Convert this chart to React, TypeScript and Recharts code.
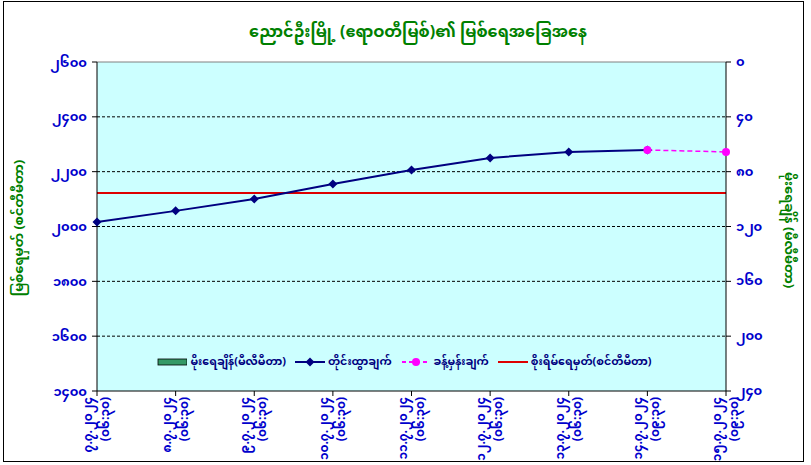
import React from "react";
import {
  ComposedChart,
  Line,
  Bar,
  XAxis,
  YAxis,
  CartesianGrid,
  Legend,
  ReferenceLine,
} from "recharts";

const dates = [
  "၇.၇.၂၀၂၄",
  "၈.၇.၂၀၂၄",
  "၉.၇.၂၀၂၄",
  "၁၀.၇.၂၀၂၄",
  "၁၁.၇.၂၀၂၄",
  "၁၂.၇.၂၀၂၄",
  "၁၃.၇.၂၀၂၄",
  "၁၄.၇.၂၀၂၄",
  "၁၅.၇.၂၀၂၄",
];
const times = [
  "(၀၆:၃၀)",
  "(၀၆:၃၀)",
  "(၀၆:၃၀)",
  "(၀၆:၃၀)",
  "(၀၆:၃၀)",
  "(၀၆:၃၀)",
  "(၀၆:၃၀)",
  "(၀၉:၃၀)",
  "(၀၉:၃၀)",
];
const waterLevel = [2016, 2057, 2100, 2155, 2206, 2250, 2272, 2279, null];
const forecast = [null, null, null, null, null, null, null, 2279, 2272];
const dangerLevel = [2122, 2122, 2122, 2122, 2122, 2122, 2122, 2122, 2122];
const rainfall = [0, 0, 0, 0, 0, 0, 0, 0, 0];
const levelTicks = [1400, 1600, 1800, 2000, 2200, 2400, 2600];
const rainTicks = [0, 40, 80, 120, 160, 200, 240];

const data = dates.map((d, i) => ({
  date: d,
  time: times[i],
  rain: rainfall[i],
  level: waterLevel[i],
  forecast: forecast[i],
  danger: dangerLevel[i],
}));

const FONT = "'Noto Sans Myanmar', 'Padauk', 'Myanmar Text', 'Noto Sans', sans-serif";
const BLUE = "#0000cc";
const GREEN = "#008000";

const myDigits = "၀၁၂၃၄၅၆၇၈၉";
const toMy = (n: number) => String(n).replace(/\d/g, (c) => myDigits[Number(c)]);

const Diamond = (props: any) => {
  const { cx, cy } = props;
  if (cx == null || cy == null || props.value == null) return null;
  return (
    <polygon
      points={`${cx},${cy - 4.5} ${cx + 4.5},${cy} ${cx},${cy + 4.5} ${cx - 4.5},${cy}`}
      fill="#000080"
    />
  );
};

const PinkDot = (props: any) => {
  const { cx, cy } = props;
  if (cx == null || cy == null || props.value == null) return null;
  return <circle cx={cx} cy={cy} r={4} fill="#ff00ff" />;
};

const XTick = (props: any) => {
  const { x, payload } = props;
  const i = payload.index;
  return (
    <g transform={`translate(${x},391)`}>
      <text
        transform="rotate(-90)"
        x={-6}
        y={-8}
        textAnchor="end"
        dominantBaseline="central"
        fill={BLUE}
        fontSize={12}
        fontWeight="bold"
        fontFamily={FONT}
      >
        {dates[i]}
      </text>
      <text
        transform="rotate(-90)"
        x={-6}
        y={9}
        textAnchor="end"
        dominantBaseline="central"
        fill={BLUE}
        fontSize={12}
        fontWeight="bold"
        fontFamily={FONT}
      >
        {times[i]}
      </text>
    </g>
  );
};

const RightTick = (props: any) => {
  const { x, y, payload } = props;
  return (
    <text x={x} y={y} dy={4} textAnchor="start" fill={BLUE} fontSize={13} fontWeight="bold" fontFamily={FONT}>
      {toMy(payload.value)}
    </text>
  );
};

const legendItems = [
  { label: "မိုးရေချိန်(မီလီမီတာ)", kind: "rect" },
  { label: "တိုင်းထွာချက်", kind: "diamond" },
  { label: "ခန့်မှန်းချက်", kind: "pink" },
  { label: "စိုးရိမ်ရေမှတ်(စင်တီမီတာ)", kind: "red" },
];

const LegendIcon = ({ kind }: { kind: string }) => (
  <svg width={30} height={12} style={{ marginRight: 3 }}>
    {kind === "rect" && <rect x={1} y={3} width={29} height={6} fill="#339966" stroke="#000" strokeWidth={0.8} />}
    {kind === "diamond" && (
      <>
        <line x1={0} y1={6} x2={30} y2={6} stroke="#000080" strokeWidth={2} />
        <polygon points="15,1.5 19.5,6 15,10.5 10.5,6" fill="#000080" />
      </>
    )}
    {kind === "pink" && (
      <>
        <line x1={1} y1={6} x2={29} y2={6} stroke="#ff00ff" strokeWidth={2} strokeDasharray="4 3" />
        <circle cx={15} cy={6} r={4} fill="#ff00ff" />
      </>
    )}
    {kind === "red" && <line x1={0} y1={6} x2={30} y2={6} stroke="#dd0000" strokeWidth={2} />}
  </svg>
);

const renderLegend = () => (
  <div style={{ display: "flex", alignItems: "center", justifyContent: "center", gap: 9 }}>
    {legendItems.map((it) => (
      <div key={it.label} style={{ display: "flex", alignItems: "center" }}>
        <LegendIcon kind={it.kind} />
        <span style={{ color: "#000080", fontSize: 11, fontWeight: "bold", fontFamily: FONT }}>{it.label}</span>
      </div>
    ))}
  </div>
);

export default function App() {
  return (
    <div style={{ position: "relative", width: 811, height: 465, background: "#fff", fontFamily: FONT }}>
      <style>{`body{margin:0}`}</style>
      <div
        style={{
          position: "absolute",
          left: 3,
          top: 1,
          width: 799,
          height: 459,
          border: "1px solid #000",
        }}
      />
      <div
        style={{
          position: "absolute",
          top: 16,
          left: 0,
          width: 836,
          textAlign: "center",
          color: GREEN,
          fontWeight: "bold",
          fontSize: 16,
        }}
      >
        ညောင်ဦးမြို့ (ဧရာဝတီမြစ်)၏ မြစ်ရေအခြေအနေ
      </div>
      <div
        style={{
          position: "absolute",
          left: 20,
          top: 228,
          transform: "translate(-50%,-50%) rotate(-90deg)",
          whiteSpace: "nowrap",
          color: GREEN,
          fontWeight: "bold",
          fontSize: 13,
        }}
      >
        မြစ်ရေမှတ် (စင်တီမီတာ)
      </div>
      <div
        style={{
          position: "absolute",
          left: 788,
          top: 230,
          transform: "translate(-50%,-50%) rotate(90deg)",
          whiteSpace: "nowrap",
          color: GREEN,
          fontWeight: "bold",
          fontSize: 13,
        }}
      >
        မိုးရေချိန် (မီလီမီတာ)
      </div>
      <ComposedChart
        width={811}
        height={465}
        data={data}
        margin={{ top: 62, left: 37, right: 25, bottom: 0 }}
        style={{ position: "absolute", left: 0, top: 0 }}
      >
        <CartesianGrid
          yAxisId="left"
          vertical={false}
          horizontalValues={[1600, 1800, 2000, 2200, 2400]}
          stroke="#000"
          strokeDasharray="3 2"
          fill="#ccffff"
          fillOpacity={1}
        />
        <ReferenceLine yAxisId="left" y={2600} stroke="#808080" strokeWidth={1} />
        <XAxis
          dataKey="date"
          scale="point"
          height={74}
          interval={0}
          tick={<XTick />}
          tickSize={5}
          stroke="#000"
          axisLine={{ stroke: "#000" }}
        />
        <YAxis
          yAxisId="left"
          domain={[1400, 2600]}
          ticks={levelTicks}
          width={60}
          tickSize={5}
          tickMargin={5}
          stroke="#000"
          tickFormatter={toMy}
          tick={{ fill: BLUE, fontSize: 13, fontWeight: "bold", fontFamily: FONT }}
          allowDataOverflow
        />
        <YAxis
          yAxisId="right"
          orientation="right"
          reversed
          domain={[0, 240]}
          ticks={rainTicks}
          width={60}
          tickSize={5}
          tickMargin={5}
          stroke="#000"
          tick={<RightTick />}
        />
        <Bar yAxisId="right" dataKey="rain" fill="#339966" isAnimationActive={false} />
        <Line
          yAxisId="left"
          dataKey="danger"
          stroke="#dd0000"
          strokeWidth={2}
          dot={false}
          activeDot={false}
          isAnimationActive={false}
        />
        <Line
          yAxisId="left"
          dataKey="level"
          stroke="#000080"
          strokeWidth={2}
          dot={<Diamond />}
          activeDot={false}
          isAnimationActive={false}
        />
        <Line
          yAxisId="left"
          dataKey="forecast"
          stroke="#ff00ff"
          strokeWidth={1.5}
          strokeDasharray="5 3"
          dot={<PinkDot />}
          activeDot={false}
          isAnimationActive={false}
        />
        <Legend
          layout="horizontal"
          verticalAlign="middle"
          content={renderLegend}
          wrapperStyle={{ position: "absolute", top: 350, left: 97, width: 615, height: 16 }}
        />
      </ComposedChart>
    </div>
  );
}
